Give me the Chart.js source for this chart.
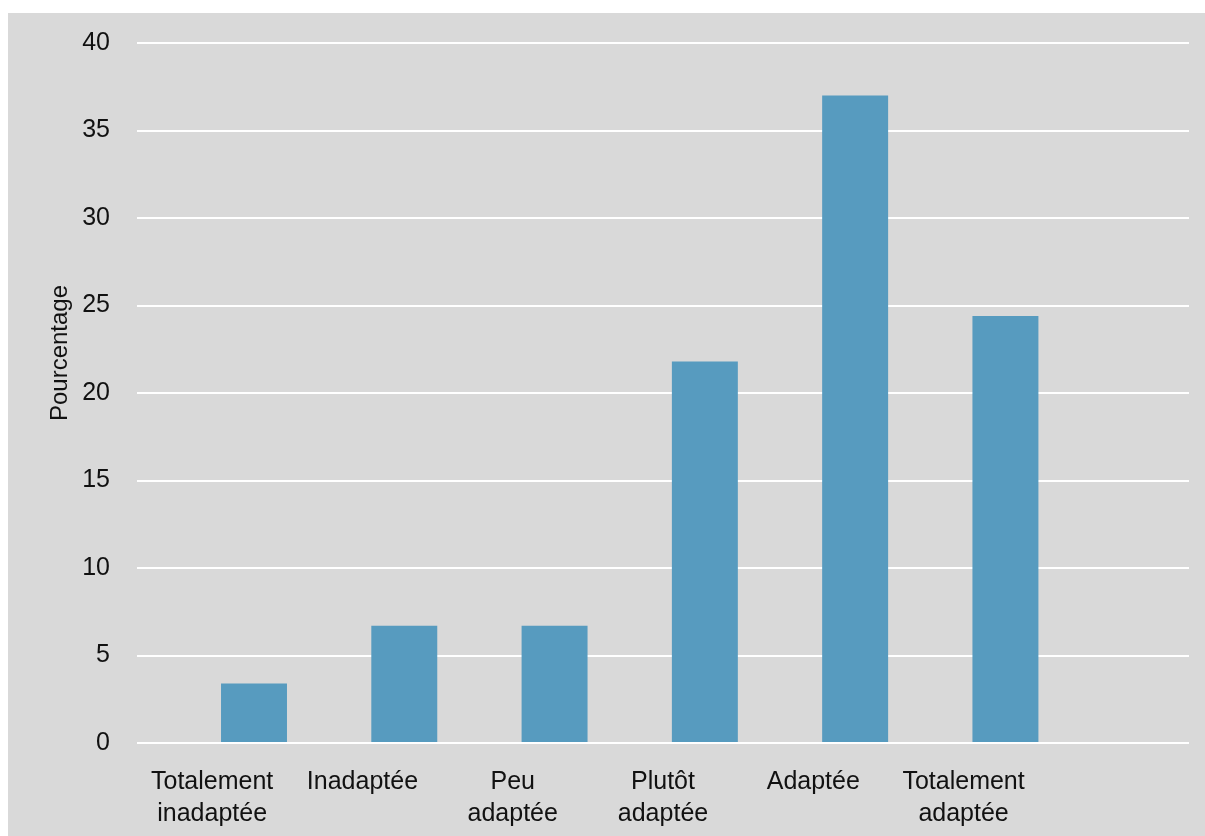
<!DOCTYPE html>
<html>
<head>
<meta charset="utf-8">
<script src="https://cdn.jsdelivr.net/npm/chart.js@4/dist/chart.umd.min.js"></script>
<style>
  html, body { margin: 0; padding: 0; background: #ffffff; }
  #wrap { position: absolute; left: 8px; top: 13px; width: 1197px; height: 823px; background: #d9d9d9; }
</style>
</head>
<body>
<div id="wrap"><canvas id="chart"></canvas></div>
<script>
// Data
const categories = [
    ['Totalement', 'inadaptée'],
    'Inadaptée',
    ['Peu', 'adaptée'],
    ['Plutôt', 'adaptée'],
    'Adaptée',
    ['Totalement', 'adaptée'],
    ''
];
const percentages = [3.4, 6.7, 6.7, 21.8, 37.0, 24.4, null];
const emptySeries = [null, null, null, null, null, null, null];
const yTicks = [0, 5, 10, 15, 20, 25, 30, 35, 40];

// Shared styling
const textColor = '#111111';
const fontFam = "'Liberation Sans', Arial, sans-serif";
const barColor = '#579bbf';

new Chart(document.getElementById('chart'), {
    type: 'bar',
    data: {
        labels: categories,
        datasets: [
            { label: '', data: emptySeries, backgroundColor: 'rgba(0,0,0,0)' },
            { label: 'Pourcentage', data: percentages, backgroundColor: barColor, borderWidth: 0 }
        ]
    },
    options: {
        responsive: true,
        maintainAspectRatio: false,
        animation: false,
        categoryPercentage: 1.114,
        barPercentage: 0.788,
        layout: { padding: { top: 30, right: 16, left: 38, bottom: 0 } },
        plugins: {
            legend: { display: false },
            tooltip: { enabled: false }
        },
        scales: {
            x: {
                grid: { display: false },
                border: { display: false },
                ticks: {
                    color: textColor,
                    maxRotation: 0,
                    autoSkip: false,
                    padding: 15,
                    font: { family: fontFam, size: 25, lineHeight: 1.27 }
                },
                afterFit: (axis) => { axis.height = 93; }
            },
            y: {
                min: 0,
                max: 40,
                afterBuildTicks: (axis) => { axis.ticks = yTicks.map(v => ({ value: v })); },
                grid: { color: '#ffffff', lineWidth: 2, drawTicks: false },
                border: { display: false },
                ticks: {
                    color: textColor,
                    padding: 27,
                    font: { family: fontFam, size: 25 }
                },
                title: {
                    display: true,
                    text: '\u00a0'.repeat(12) + 'Pourcentage',
                    color: textColor,
                    padding: 0,
                    font: { family: fontFam, size: 24 }
                },
                afterFit: (axis) => {
                    axis.width = 91;
                    axis.paddingTop = 0;
                    axis.paddingBottom = 0;
                }
            }
        }
    }
});
</script>
</body>
</html>
